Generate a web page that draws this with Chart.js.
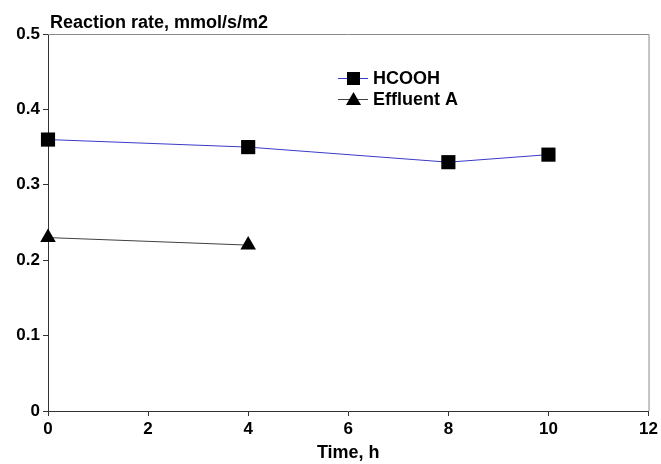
<!DOCTYPE html>
<html><head><meta charset="utf-8">
<script src="https://cdn.jsdelivr.net/npm/chart.js@4"></script>
<style>html,body{margin:0;padding:0;background:#fff}#wrap{width:661px;height:464px}</style>
</head><body><div id="wrap"><canvas id="c" width="661" height="464"></canvas></div>
<script>
const timeHCOOH = [0, 4, 8, 10];
const rateHCOOH = [0.36, 0.35, 0.33, 0.34];
const timeEffluent = [0, 4];
const rateEffluent = [0.23, 0.22];
const xTicks = [0, 2, 4, 6, 8, 10, 12];
const yTicks = [0, 0.1, 0.2, 0.3, 0.4, 0.5];
const seriesNames = ['HCOOH', 'Effluent A'];
const yTitle = 'Reaction rate, mmol/s/m2';
const xTitle = 'Time, h';

const FONT = 'Arial, "Liberation Sans", sans-serif';
const LEFT = 48, TOP = 34, RIGHT = 649, BOTTOM = 411;

const extras = {
  id: 'extras',
  afterDraw(chart) {
    const ctx = chart.ctx, a = chart.chartArea;
    ctx.save();
    ctx.strokeStyle = '#8a8a8a'; ctx.lineWidth = 1;
    ctx.beginPath();
    ctx.moveTo(a.left, a.top + 0.5); ctx.lineTo(a.right + 0.5, a.top + 0.5);
    ctx.lineTo(a.right + 0.5, a.bottom);
    ctx.stroke();
    ctx.fillStyle = '#000';
    ctx.font = 'bold 18px ' + FONT;
    ctx.textBaseline = 'alphabetic'; ctx.textAlign = 'left';
    ctx.fillText(yTitle, 50, 28);
    // legend
    const items = [
      {name: seriesNames[0], color: '#3a3ac8', style: 'rect', y: 78},
      {name: seriesNames[1], color: '#404040', style: 'triangle', y: 99}
    ];
    items.forEach(it => {
      ctx.strokeStyle = it.color; ctx.lineWidth = 1;
      ctx.beginPath(); ctx.moveTo(338, it.y + 0.5); ctx.lineTo(368, it.y + 0.5); ctx.stroke();
      ctx.fillStyle = '#000';
      ctx.beginPath();
      if (it.style === 'rect') { ctx.rect(347, it.y - 6, 13, 13); }
      else { ctx.moveTo(353.5, it.y - 7); ctx.lineTo(361, it.y + 6); ctx.lineTo(346, it.y + 6); ctx.closePath(); }
      ctx.fill();
      ctx.font = 'bold 18px ' + FONT;
      ctx.textBaseline = 'middle';
      ctx.fillText(it.name, 373, it.y + 1);
    });
    ctx.restore();
  }
};

new Chart(document.getElementById('c'), {
  type: 'line',
  data: {
    datasets: [
      {
        label: seriesNames[0],
        data: timeHCOOH.map((t, i) => ({x: t, y: rateHCOOH[i]})),
        borderColor: '#3a3ac8', borderWidth: 1,
        pointStyle: 'rect', pointRadius: 10, pointBackgroundColor: '#000', pointBorderColor: '#000', pointBorderWidth: 0,
        tension: 0, clip: false
      },
      {
        label: seriesNames[1],
        data: timeEffluent.map((t, i) => ({x: t, y: rateEffluent[i]})),
        borderColor: '#404040', borderWidth: 1,
        pointStyle: 'triangle', pointRadius: 9, pointBackgroundColor: '#000', pointBorderColor: '#000', pointBorderWidth: 0,
        tension: 0, clip: false
      }
    ]
  },
  options: {
    responsive: false, animation: false,
    layout: {padding: {top: TOP, right: 661 - RIGHT, left: 0, bottom: 0}},
    plugins: {legend: {display: false}, tooltip: {enabled: false}, title: {display: false}},
    scales: {
      x: {
        type: 'linear', min: 0, max: 12,
        afterBuildTicks: s => { s.ticks = xTicks.map(v => ({value: v})); },
        afterFit: s => { s.height = 464 - BOTTOM; },
        grid: {drawOnChartArea: false, drawTicks: true, tickLength: 5, color: '#333'},
        border: {color: '#333', width: 1},
        ticks: {color: '#000', font: {family: FONT, size: 17, weight: 'bold'}, padding: 3, maxRotation: 0},
        title: {display: true, text: xTitle, color: '#000', font: {family: FONT, size: 18, weight: 'bold'}, padding: {top: 0, bottom: 0}}
      },
      y: {
        type: 'linear', min: 0, max: 0.5,
        afterBuildTicks: s => { s.ticks = yTicks.map(v => ({value: v})); },
        afterFit: s => { s.width = LEFT; },
        grid: {drawOnChartArea: false, drawTicks: true, tickLength: 5, color: '#333'},
        border: {color: '#333', width: 1},
        ticks: {color: '#000', font: {family: FONT, size: 17, weight: 'bold'}, padding: 3,
          callback: v => v === 0 ? '0' : v.toFixed(1)}
      }
    }
  },
  plugins: [extras]
});
</script></body></html>
